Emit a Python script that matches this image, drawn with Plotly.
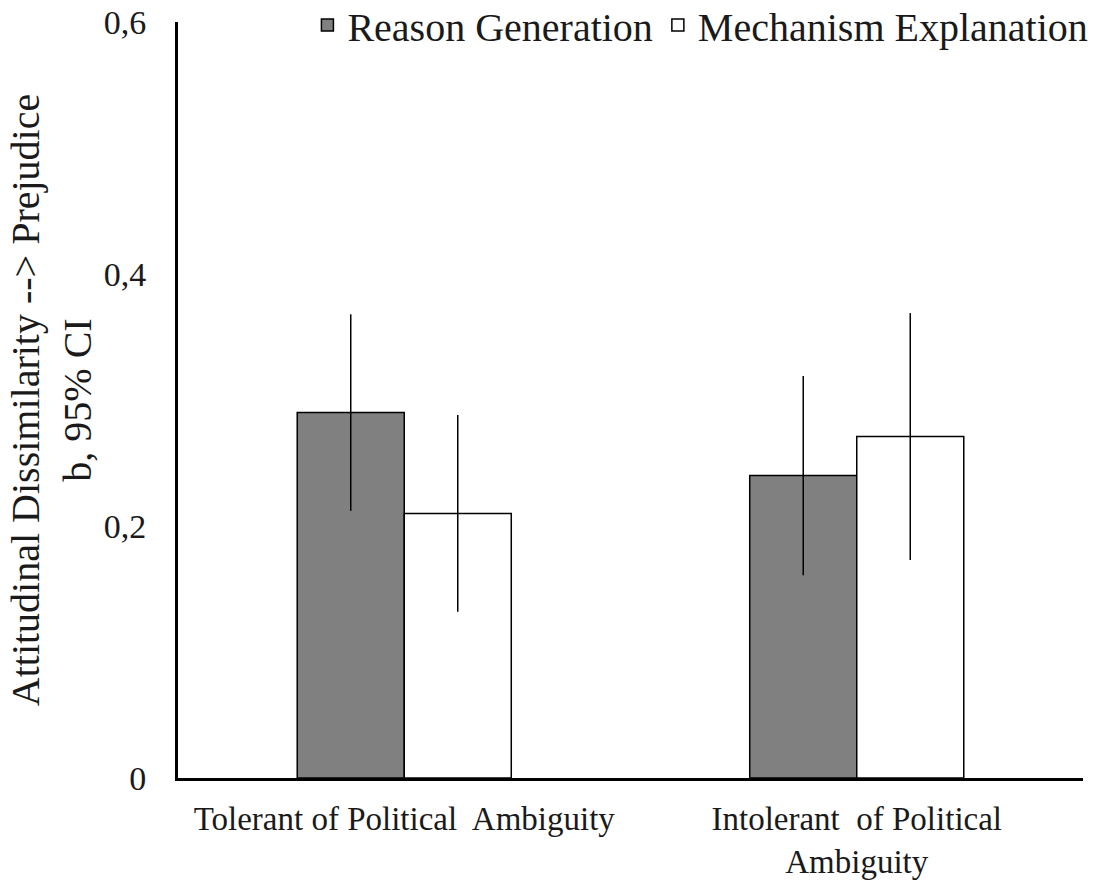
import plotly.graph_objects as go

categories = ["Tolerant of Political  Ambiguity", "Intolerant  of Political<br>Ambiguity"]
reason_vals = [0.29, 0.24]
reason_err = [0.078, 0.079]
mech_vals = [0.21, 0.271]
mech_err = [0.078, 0.098]
ytick_vals = [0, 0.2, 0.4, 0.6]
ytick_text = ["0", "0,2", "0,4", "0,6"]

font_family = "Liberation Serif, Times New Roman, serif"

fig = go.Figure()
fig.add_trace(go.Bar(
    x=categories, y=reason_vals, name="Reason Generation",
    marker=dict(color="#808080", line=dict(color="black", width=1.5)),
    error_y=dict(type="data", array=reason_err, visible=True, color="black", thickness=1.5, width=0),
))
fig.add_trace(go.Bar(
    x=categories, y=mech_vals, name="Mechanism Explanation",
    marker=dict(color="white", line=dict(color="black", width=1.5)),
    error_y=dict(type="data", array=mech_err, visible=True, color="black", thickness=1.5, width=0),
))

fig.update_layout(
    width=1096, height=880,
    margin=dict(l=178, r=13, t=22, b=102, autoexpand=False),
    paper_bgcolor="white", plot_bgcolor="white",
    font=dict(family=font_family, size=34, color="#1a1a1a"),
    barmode="group", bargap=0.527, bargroupgap=0,
    showlegend=True,
    legend=dict(orientation="h", x=0.143, xanchor="left", y=0.996, yanchor="middle",
                font=dict(size=40, family=font_family), bgcolor="rgba(0,0,0,0)",
                itemwidth=30, tracegroupgap=0),
    yaxis=dict(range=[0, 0.6], tickvals=ytick_vals, ticktext=ytick_text,
               showline=True, linecolor="black", linewidth=3, showgrid=False,
               zeroline=False, ticks="", ticklabelstandoff=22,
               tickfont=dict(size=34, family=font_family),
               title=dict(text="Attitudinal Dissimilarity --> Prejudice<br>b, 95% CI",
                          font=dict(size=40, family=font_family), standoff=0)),
    xaxis=dict(showline=True, linecolor="black", linewidth=3, ticks="",
               ticklabelstandoff=9,
               tickfont=dict(size=33, family=font_family), tickangle=0),
)

fig.write_html("out.html", config={"displayModeBar": False},
               post_script="document.body.style.margin='0';")
